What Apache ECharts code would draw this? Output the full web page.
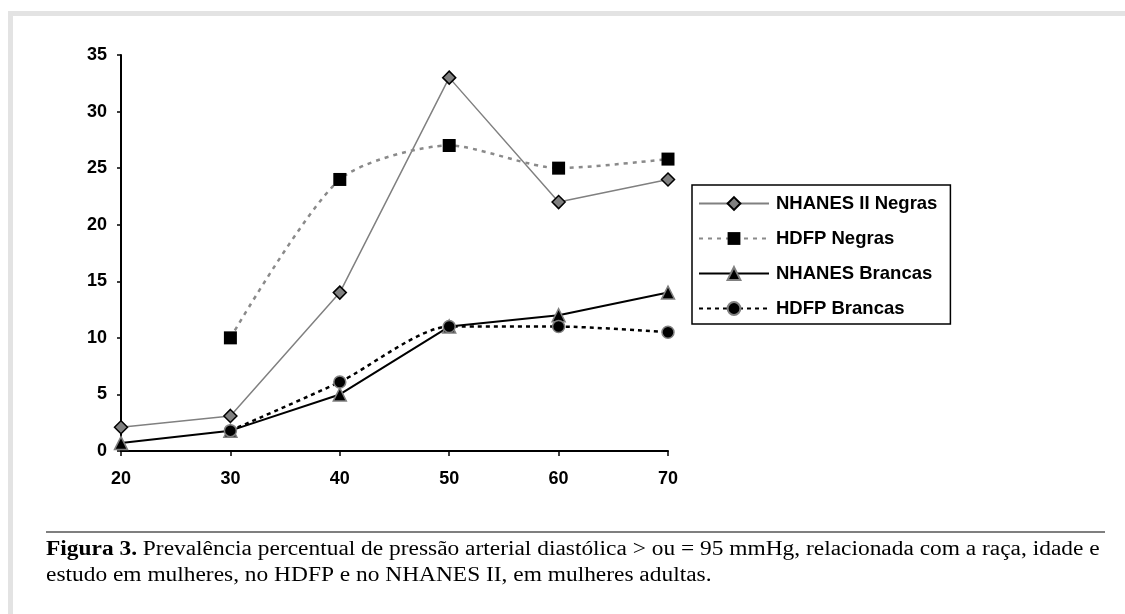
<!DOCTYPE html>
<html>
<head>
<meta charset="utf-8">
<script src="https://cdn.jsdelivr.net/npm/echarts@6/dist/echarts.min.js"></script>
<style>
html,body{margin:0;padding:0;background:#fff;}
#chart{width:1125px;height:614px;}
</style>
</head>
<body>
<div id="chart"></div>
<script>
const seriesNames = ['NHANES II Negras', 'HDFP Negras', 'NHANES Brancas', 'HDFP Brancas'];
const nhanesNegras = [[20, 2.1], [30, 3.1], [40, 14], [50, 33], [60, 22], [70, 24]];
const hdfpNegras = [[30, 10], [40, 24], [50, 27], [60, 25], [70, 25.8]];
const nhanesBrancas = [[20, 0.7], [30, 1.8], [40, 5], [50, 11], [60, 12], [70, 14]];
const hdfpBrancas = [[30, 1.8], [40, 6.1], [50, 11], [60, 11], [70, 10.5]];
const captionBold = 'Figura 3.';
const captionLine1 = ' Prevalência percentual de pressão arterial diastólica > ou = 95 mmHg, relacionada com a raça, idade e';
const captionLine2 = 'estudo em mulheres, no HDFP e no NHANES II, em mulheres adultas.';

const chart = echarts.init(document.getElementById('chart'), null, {renderer: 'canvas'});
const axisFont = {fontFamily: 'Arial, "Liberation Sans", sans-serif', fontWeight: 'bold', fontSize: 18, color: '#000'};

chart.setOption({
  animation: false,
  backgroundColor: '#fff',
  grid: {left: 121, right: 457, top: 55, bottom: 163, containLabel: false},
  xAxis: {
    type: 'value', min: 20, max: 70, interval: 10,
    axisLine: {lineStyle: {color: '#000', width: 2}},
    axisTick: {show: true, length: 5, lineStyle: {color: '#000', width: 1.5}},
    axisLabel: Object.assign({margin: 19}, axisFont),
    splitLine: {show: false}
  },
  yAxis: {
    type: 'value', min: 0, max: 35, interval: 5,
    axisLine: {show: true, lineStyle: {color: '#000', width: 2}},
    axisTick: {show: true, length: 4, lineStyle: {color: '#000', width: 1.5}},
    axisLabel: Object.assign({margin: 14}, axisFont),
    splitLine: {show: false}
  },
  legend: {
    orient: 'vertical',
    left: 692, top: 185,
    padding: [9, 13, 6, 6],
    itemWidth: 70, itemHeight: 16, itemGap: 16,
    borderColor: '#000', borderWidth: 1.5,
    textStyle: {fontFamily: 'Arial, "Liberation Sans", sans-serif', fontWeight: 'bold', fontSize: 18.5, color: '#000', padding: [0, 0, 0, 2]},
    data: seriesNames
  },
  series: [
    {
      name: seriesNames[0], type: 'line', data: nhanesNegras,
      symbol: 'diamond', symbolSize: 13,
      lineStyle: {color: '#808080', width: 1.5},
      itemStyle: {color: '#808080', borderColor: '#000', borderWidth: 1.5}
    },
    {
      name: seriesNames[1], type: 'line', data: hdfpNegras, smooth: 0.25,
      symbol: 'rect', symbolSize: 13,
      lineStyle: {color: '#8a8a8a', width: 2.5, type: [4, 5]},
      itemStyle: {color: '#000', borderColor: '#000', borderWidth: 0}
    },
    {
      name: seriesNames[2], type: 'line', data: nhanesBrancas,
      symbol: 'triangle', symbolSize: 13,
      lineStyle: {color: '#000', width: 2},
      itemStyle: {color: '#000', borderColor: '#808080', borderWidth: 1.5}
    },
    {
      name: seriesNames[3], type: 'line', data: hdfpBrancas, smooth: 0.25,
      symbol: 'circle', symbolSize: 12,
      lineStyle: {color: '#000', width: 2.5, type: [4, 4]},
      itemStyle: {color: '#000', borderColor: '#808080', borderWidth: 1.5}
    }
  ],
  graphic: [
    {type: 'rect', shape: {x: 8, y: 11, width: 1117, height: 5}, style: {fill: '#e3e3e3'}, silent: true},
    {type: 'rect', shape: {x: 8, y: 11, width: 5, height: 603}, style: {fill: '#e3e3e3'}, silent: true},
    {type: 'line', shape: {x1: 46, y1: 532, x2: 1105, y2: 532}, style: {stroke: '#555', lineWidth: 1.5}, silent: true},
    {
      type: 'text', x: 46, y: 537, scaleX: 1.17, scaleY: 1, silent: true,
      style: {
        text: '{b|' + captionBold + '}{n|' + captionLine1 + '}\n{n|' + captionLine2 + '}',
        lineHeight: 26,
        rich: {
          b: {fontFamily: '"Liberation Serif", "Times New Roman", serif', fontWeight: 'bold', fontSize: 20, fill: '#000', lineHeight: 26},
          n: {fontFamily: '"Liberation Serif", "Times New Roman", serif', fontSize: 20, fill: '#000', lineHeight: 26}
        }
      }
    }
  ]
});
</script>
</body>
</html>
